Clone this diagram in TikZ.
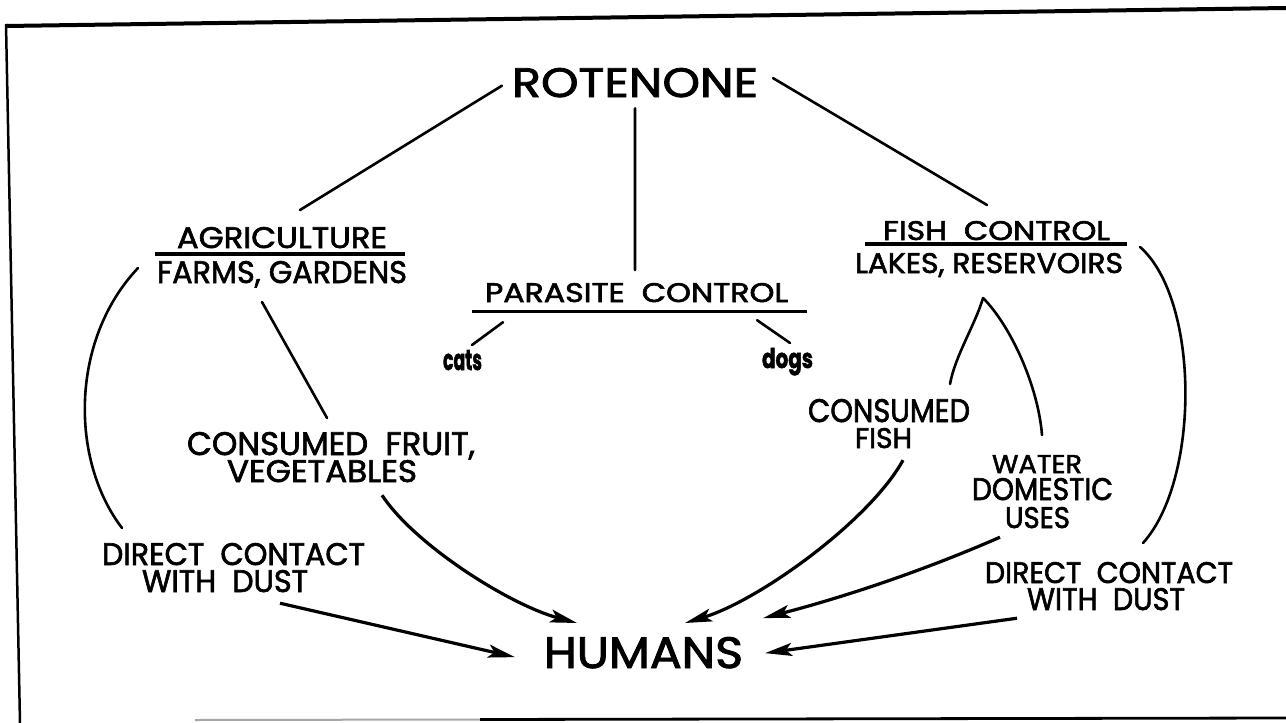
\documentclass[tikz,border=0pt]{standalone}
\usepackage{fontspec}
\usepackage{graphicx}
\setmainfont{Poppins}[FakeBold=2]
\usetikzlibrary{arrows.meta}
\newcommand{\fitt}[3]{\resizebox{#1pt}{#2pt}{#3}}
\tikzset{
  lbl/.style={inner sep=0pt, outer sep=0pt, anchor=base west},
  link/.style={line width=2.6pt, line cap=round},
  uline/.style={line width=3.2pt},
  arr/.style={line width=3.2pt, -{Stealth[length=27pt,width=13pt,inset=6pt]}}
}
\begin{document}
\begin{tikzpicture}[x=1pt,y=-1pt]
\useasboundingbox (0,0) rectangle (1286,723);
\fill[white] (0,0) rectangle (1286,723);
% frame
\draw[line width=4pt] (6,26) -- (1286,8);
\draw[line width=2.5pt] (6,24) -- (20,723);
\draw[line width=2pt, black!35] (195,720) -- (480,719.5);
\draw[line width=2.8pt] (480,719.5) -- (1286,718);
% texts
\node[lbl] (rot) at (512,97) {\fitt{246}{29}{ROTENONE}};
\node[lbl] (agr) at (177,248) {\fitt{210}{21}{AGRICULTURE}};
\node[lbl] (farms) at (157,283) {\fitt{250}{22}{FARMS, GARDENS}};
\node[lbl] (par) at (485,302) {\fitt{303}{19}{PARASITE\ \ CONTROL}};
\node[lbl] (cats) at (443,370) {\fitt{39}{20}{\bfseries cats}};
\node[lbl] (dogs) at (762,368) {\fitt{51}{20}{\bfseries dogs}};
\node[lbl] (fish) at (883,240) {\fitt{227}{19}{FISH\ \ CONTROL}};
\node[lbl] (lakes) at (855,273) {\fitt{268}{20}{LAKES, RESERVOIRS}};
\node[lbl] (cfruit) at (187,455) {\fitt{288}{23}{CONSUMED\ \ FRUIT,}};
\node[lbl] (veg) at (227,482) {\fitt{190}{22}{VEGETABLES}};
\node[lbl] (ldc) at (102,565) {\fitt{263}{22}{DIRECT\ \ CONTACT}};
\node[lbl] (lwd) at (142,592) {\fitt{166}{22}{WITH\ \ DUST}};
\node[lbl] (cons) at (808,422) {\fitt{162}{23}{CONSUMED}};
\node[lbl] (fishw) at (855,448) {\fitt{57}{20}{FISH}};
\node[lbl] (water) at (992,473) {\fitt{90}{18}{WATER}};
\node[lbl] (domestic) at (972,500) {\fitt{141}{22}{DOMESTIC}};
\node[lbl] (uses) at (1005,528) {\fitt{65}{21}{USES}};
\node[lbl] (rdc) at (985,583) {\fitt{248}{21}{DIRECT\ \ CONTACT}};
\node[lbl] (rwd) at (1027,610) {\fitt{158}{22}{WITH\ \ DUST}};
\node[lbl] (humans) at (544,668) {\fitt{199}{31}{HUMANS}};
% links from ROTENONE
\draw[link] ([shift={(-10,3)}]rot.west) -- ([shift={(18,-17)}]agr.north);
\draw[link] ([shift={(0,11)}]rot.south) -- ([shift={(-1.5,-13)}]par.north);
\draw[link] ([shift={(15,-4.5)}]rot.east) -- ([shift={(-9.5,-16)}]fish.north);
% underlines
\draw[uline] ([shift={(-2,-7)}]farms.north west) -- ([shift={(-2,-7)}]farms.north east);
\draw[uline] ([shift={(-13,9)}]par.south west) -- ([shift={(19,9)}]par.south east);
\draw[uline] ([shift={(10,-9)}]lakes.north west) -- ([shift={(4,-9)}]lakes.north east);
% parasite
\draw[link] ([shift={(18,20)}]par.south west) -- ([shift={(9.5,-25)}]cats.base);
\draw[link] ([shift={(-31,18)}]par.south east) -- ([shift={(2.5,-25)}]dogs.base);
% agriculture
\draw[link] ([shift={(-20,19)}]farms.base) -- ([shift={(-4,-14)}]cfruit.north);
\draw[link] ([shift={(-19,-15)}]farms.base west) .. controls +(-68,72) and +(-52,-68) .. ([shift={(20,-15)}]ldc.north west);
\draw[arr] ([shift={(-35,13)}]veg.south east) .. controls +(33,50) and +(-67,-18) .. ([shift={(33,-14)}]humans.north west);
\draw[arr] ([shift={(-28,11)}]lwd.south east) -- ([shift={(-29,4.5)}]humans.west);
% fish control
\coordinate (apex) at ([shift={(-6,25)}]lakes.base);
\draw[link] (apex) .. controls +(-8,27) and +(5,-28) .. ([shift={(-20,-15)}]cons.north east);
\draw[link] (apex) .. controls +(27,27) and +(-4,-50) .. ([shift={(5,-20)}]water.north);
\draw[link] ([shift={(17,-6)}]lakes.north east) .. controls +(60,53) and +(57,-63) .. ([shift={(34,-19)}]rdc.north);
\draw[arr] ([shift={(19.5,12)}]fishw.south) .. controls +(-33,60) and +(75,-23) .. ([shift={(-58,-14)}]humans.north east);
\draw[arr] ([shift={(-5,9)}]uses.south west) .. controls +(-80,35) and +(77,-20) .. ([shift={(20,-34.5)}]humans.east);
\draw[arr] ([shift={(-10,8)}]rwd.south west) -- ([shift={(22,0.5)}]humans.east);
\end{tikzpicture}
\end{document}
